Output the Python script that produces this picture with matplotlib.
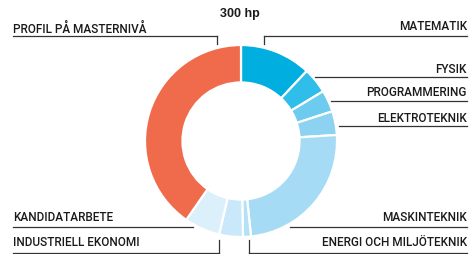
#!/usr/bin/env python3

import matplotlib.pyplot as plt

# ============================================================
# DATA
# ============================================================

subjects = [
    "MATEMATIK",
    "FYSIK",
    "PROGRAMMERING",
    "ELEKTROTEKNIK",
    "MASKINTEKNIK",
    "ENERGI OCH MILJÖTEKNIK",
    "INDUSTRIELL EKONOMI",
    "KANDIDATARBETE",
    "PROFIL PÅ MASTERNIVÅ",
]
credits = [36, 13, 11, 12, 73, 4, 12, 18, 121]
colors = [
    "#00afe0",
    "#2fbde9",
    "#6ccbee",
    "#8dd3f1",
    "#a5dbf4",
    "#b5e1f6",
    "#c9e8f9",
    "#dcf0fb",
    "#ef6b4b",
]
total_label = "300 hp"

# ============================================================
# FIGURE
# ============================================================

W, H = 477, 255
fig = plt.figure(figsize=(W / 100, H / 100), dpi=100)

# donut: centre (241, 142) px, radius 96 px
cx, cy, r = 241, 142, 96
ax = fig.add_axes([(cx - r) / W, (H - cy - r) / H, 2 * r / W, 2 * r / H])
ax.pie(
    credits,
    colors=colors,
    startangle=90,
    counterclock=False,
    radius=1.0,
    wedgeprops=dict(width=0.39, edgecolor="white", linewidth=1.6),
)
ax.set_aspect("equal")
ax.set_xlim(-1, 1)
ax.set_ylim(-1, 1)
ax.axis("off")

# overlay in pixel coordinates for labels and leader lines
ov = fig.add_axes([0, 0, 1, 1])
ov.set_xlim(0, W)
ov.set_ylim(H, 0)
ov.axis("off")
ov.patch.set_alpha(0)

font = dict(family=["Roboto", "DejaVu Sans"], fontsize=8.5,
            color="#1a1a1a", fontweight="medium")
line = dict(color="#333333", linewidth=0.9)

ov.text(240, 14.5, total_label, ha="center", va="center", fontsize=9,
        fontweight="bold", family=["Liberation Sans", "DejaVu Sans"], color="#1a1a1a")

# right side labels: (name, text y, line y, line start x, vertical end y)
right = [
    ("MATEMATIK", 27, 36.5, 264, 45),
    ("FYSIK", 69.5, 77.5, 315, None),
    ("PROGRAMMERING", 93, 101.5, 331, None),
    ("ELEKTROTEKNIK", 118.5, 126.5, 339, None),
    ("MASKINTEKNIK", 218, 228, 290, None),
    ("ENERGI OCH MILJÖTEKNIK", 243, 253.5, 249, 241),
]
for name, ty, ly, x0, vy in right:
    ov.text(467, ty, name, ha="right", va="center", **font)
    ov.plot([x0, 467], [ly, ly], **line)
    if vy is not None:
        ov.plot([x0, x0], [ly, vy], **line)

left = [
    ("PROFIL PÅ MASTERNIVÅ", 29, 36.5, 217, 45),
    ("KANDIDATARBETE", 218, 228, 193, None),
    ("INDUSTRIELL EKONOMI", 243, 253.5, 219, 241),
]
for name, ty, ly, x1, vy in left:
    ov.text(13, ty, name, ha="left", va="center", **font)
    ov.plot([13, x1], [ly, ly], **line)
    if vy is not None:
        ov.plot([x1, x1], [ly, vy], **line)

fig.savefig("out.png", dpi=100)
